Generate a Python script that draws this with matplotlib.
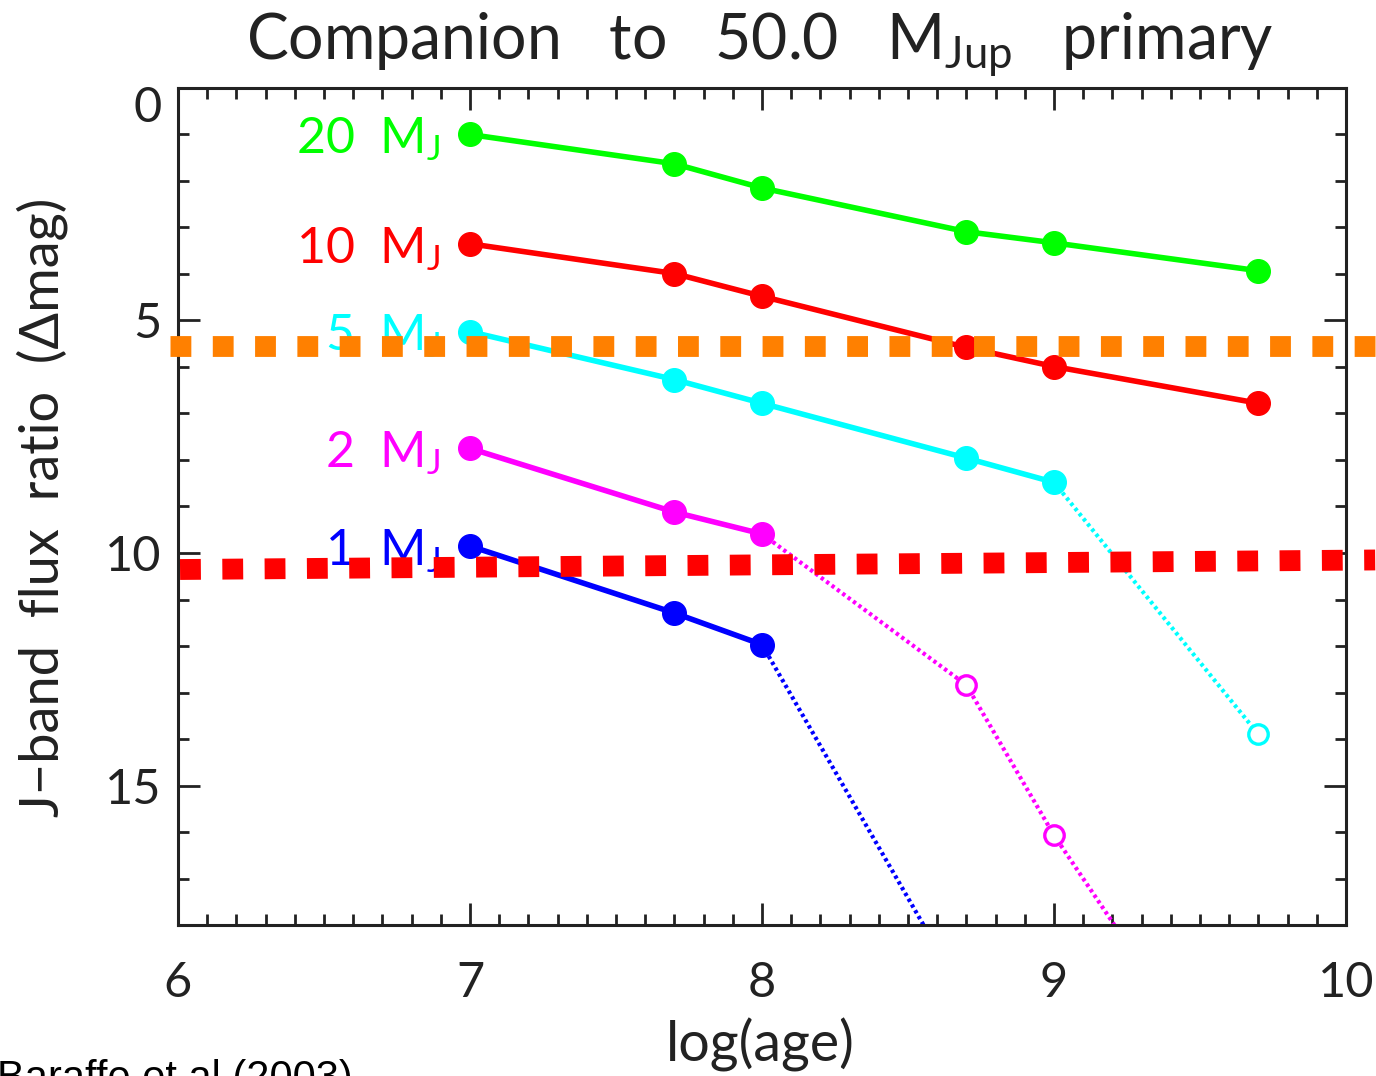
import matplotlib
matplotlib.use("Agg")
import matplotlib.pyplot as plt
import matplotlib.transforms as mtransforms

# ---------------- data ----------------
ages = [7.0, 7.7, 8.0, 8.7, 9.0, 9.7]
mass_labels = ["20", "10", "5", "2", "1"]
colors = ["#00FF00", "#FF0000", "#00FFFF", "#FF00FF", "#0000FF"]
# solid (filled) parts
solid_y = [
    [1.00, 1.63, 2.15, 3.09, 3.33, 3.93],
    [3.35, 3.99, 4.48, 5.58, 5.99, 6.78],
    [5.24, 6.27, 6.78, 7.96, 8.48],
    [7.75, 9.12, 9.59],
    [9.85, 11.29, 11.97],
]
# dotted continuation (open markers), starting at the last solid age
dotted_x = [[], [], [9.0, 9.7], [8.0, 8.7, 9.0, 9.7], [8.0, 8.7]]
dotted_y = [[], [], [8.48, 13.90], [9.59, 12.84, 16.07, 22.6], [11.97, 19.6]]
open_x = [[], [], [9.7], [8.7, 9.0], []]
open_y = [[], [], [13.90], [12.84, 16.07], []]

# overlay limit lines
orange_line_x = [5.973, 10.10]
orange_line_y = [5.54, 5.54]
red_line_x = [6.007, 10.10]
red_line_y = [10.355, 10.15]

xticks = [6, 7, 8, 9, 10]
yticks = [0, 5, 10, 15]

# ---------------- style ----------------
FONT = ["Lato", "DejaVu Sans"]
plt.rcParams["font.family"] = FONT
plt.rcParams["mathtext.default"] = "regular"
TXT = "#222222"

fig = plt.figure(figsize=(13.76, 10.76), dpi=100)
ax = fig.add_axes([178/1376, 1-925/1076, (1346-178)/1376, (925-88)/1076])
ax.set_xlim(6, 10)
ax.set_ylim(18, 0)

lw = 4.0
for i in range(len(mass_labels)):
    c = colors[i]
    ys = solid_y[i]
    xs = ages[:len(ys)]
    if dotted_x[i]:
        ax.plot(dotted_x[i], dotted_y[i], color=c, lw=3.0, ls=(0, (0.8, 0.8)),
                zorder=2)
    if open_x[i]:
        ax.plot(open_x[i], open_y[i], ls="none", marker="o", ms=14,
                mfc="white", mec=c, mew=2.4, zorder=3)
    ax.plot(xs, ys, color=c, lw=lw, marker="o", ms=17, zorder=4)
    ax.annotate(mass_labels[i] + "  M$_J$", xy=(xs[0], ys[0]),
                xytext=(-30, -19), textcoords="offset pixels",
                ha="right", va="baseline", color=c, fontsize=36)

# overlay dotted lines (extend past the axes)
ax.plot(orange_line_x, orange_line_y, color="#FF8000", lw=15,
        ls=(0, (1.0, 1.03)), solid_capstyle="butt", dash_capstyle="butt",
        clip_on=False, zorder=10)
ax.plot(red_line_x, red_line_y, color="#FF0000", lw=15,
        ls=(0, (1.0, 1.03)), solid_capstyle="butt", dash_capstyle="butt",
        clip_on=False, zorder=10)

# ticks
ax.set_xticks(xticks)
ax.set_yticks(yticks)
ax.set_xticks([x/10 for x in range(60, 101)], minor=True)
ax.set_yticks(list(range(0, 19)), minor=True)
ax.tick_params(which="both", direction="in", top=True, right=True,
               color="#222222", width=2)
ax.tick_params(which="major", length=16)
ax.tick_params(which="minor", length=8)
ax.tick_params(axis="x", which="major", pad=26, labelsize=35, labelcolor=TXT)
ax.tick_params(axis="y", which="major", pad=12, labelsize=35, labelcolor=TXT)
for s in ax.spines.values():
    s.set_linewidth(2.2)
    s.set_color("#222222")

# shift top "0" label downward as in the reference
lab0 = ax.get_yticklabels()[0]
lab0.set_transform(lab0.get_transform() +
                   mtransforms.ScaledTranslation(0, -16/100, fig.dpi_scale_trans))

fig.text(760/1376, 1-60/1076, "Companion   to   50.0   M$_{Jup}$   primary",
         ha="center", va="baseline", fontsize=45, color=TXT)
fig.text(760/1376, 1-1062/1076, "log(age)", ha="center", va="baseline",
         fontsize=40, color=TXT)
fig.text(42/1376, 1-507/1076, "J\u2212band  flux  ratio  (\u0394mag)",
         ha="center", va="center", rotation=90, fontsize=39, color=TXT)
fig.text(-3/1376, 1-1090/1076, "Baraffe et al (2003)", ha="left",
         va="baseline", fontsize=30, color="black",
         family=["Liberation Sans", "DejaVu Sans"])

fig.savefig("out.png", dpi=100)
